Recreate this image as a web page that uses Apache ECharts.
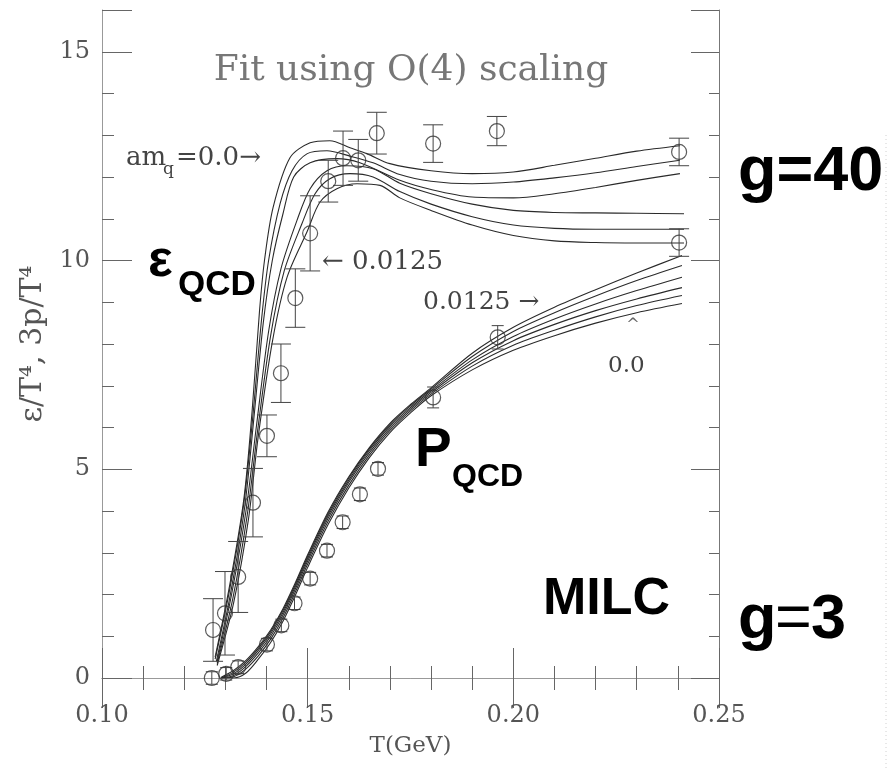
<!DOCTYPE html>
<html>
<head>
<meta charset="utf-8">
<script src="https://cdn.jsdelivr.net/npm/echarts@6/dist/echarts.min.js"></script>
<style>
  html, body { margin: 0; padding: 0; background: #fff; }
  #chart { width: 890px; height: 770px; }
</style>
</head>
<body>
<div id="chart"></div>
<script>
// energy density fit curves, [T, eps/T^4]
const epsCurve1 = [[0.1275,0.5],[0.131,2.2],[0.1345,4.3],[0.1365,6.4],[0.1383,8.8],[0.1395,10.0],[0.1416,11.27],[0.1457,12.46],[0.1506,12.82],[0.1554,12.87],[0.1603,12.7],[0.1644,12.56],[0.170,12.32],[0.180,12.15],[0.190,12.08],[0.200,12.12],[0.210,12.28],[0.220,12.45],[0.230,12.62],[0.2405,12.75]];
const epsCurve2 = [[0.1275,0.45],[0.131,2.1],[0.1345,4.2],[0.1367,6.3],[0.1388,8.6],[0.1405,10.0],[0.1433,11.36],[0.1462,12.15],[0.1499,12.56],[0.1547,12.63],[0.1603,12.5],[0.1659,12.34],[0.1724,12.06],[0.180,11.9],[0.190,11.84],[0.200,11.88],[0.210,11.98],[0.220,12.1],[0.230,12.25],[0.2405,12.4]];
const epsCurve3 = [[0.1278,0.4],[0.1312,2.0],[0.1347,4.1],[0.1369,6.2],[0.1392,8.5],[0.1414,10.0],[0.1440,11.12],[0.1466,12.0],[0.1506,12.34],[0.1571,12.44],[0.1627,12.34],[0.1724,11.92],[0.180,11.7],[0.190,11.52],[0.200,11.5],[0.210,11.6],[0.220,11.75],[0.230,11.92],[0.2405,12.08]];
const epsCurve4 = [[0.128,0.4],[0.1315,2.0],[0.135,4.0],[0.1375,6.0],[0.1405,8.3],[0.1435,9.8],[0.1474,10.96],[0.1506,11.72],[0.1547,12.15],[0.1596,12.27],[0.1659,12.2],[0.1724,11.85],[0.180,11.6],[0.190,11.35],[0.200,11.2],[0.210,11.15],[0.220,11.14],[0.230,11.13],[0.2415,11.12]];
const epsCurve5 = [[0.128,0.35],[0.1318,1.9],[0.1353,3.9],[0.1378,5.9],[0.141,8.2],[0.1443,9.75],[0.1486,10.88],[0.1518,11.6],[0.1554,11.96],[0.1603,12.08],[0.1659,12.0],[0.1724,11.65],[0.180,11.35],[0.190,11.05],[0.200,10.85],[0.210,10.77],[0.220,10.75],[0.230,10.75],[0.2415,10.75]];
const epsCurve6 = [[0.128,0.3],[0.132,1.8],[0.1356,3.8],[0.138,5.8],[0.1415,8.1],[0.145,9.6],[0.1499,10.7],[0.1530,11.4],[0.1571,11.72],[0.162,11.84],[0.1676,11.8],[0.1724,11.5],[0.180,11.2],[0.190,10.85],[0.200,10.6],[0.210,10.47],[0.220,10.43],[0.230,10.42],[0.2415,10.42]];

// pressure fit curves, 3p/T^4 on a shared T grid
const presT = [0.129, 0.132, 0.135, 0.138, 0.141, 0.144, 0.147, 0.150, 0.155, 0.160, 0.165, 0.170, 0.175, 0.180, 0.190, 0.200, 0.210, 0.220, 0.230, 0.241];
const pres1 = [0.02, 0.18, 0.42, 0.75, 1.15, 1.66, 2.28, 2.95, 3.98, 4.82, 5.52, 6.10, 6.55, 6.95, 7.78, 8.40, 8.88, 9.30, 9.70, 10.12];
const pres2 = [0.00, 0.14, 0.38, 0.71, 1.11, 1.62, 2.24, 2.91, 3.94, 4.79, 5.49, 6.07, 6.52, 6.92, 7.70, 8.30, 8.75, 9.15, 9.52, 9.88];
const pres3 = [0.00, 0.10, 0.33, 0.66, 1.06, 1.57, 2.19, 2.86, 3.89, 4.74, 5.45, 6.03, 6.48, 6.88, 7.62, 8.18, 8.60, 8.96, 9.28, 9.60];
const pres4 = [0.00, 0.06, 0.28, 0.60, 1.00, 1.51, 2.13, 2.80, 3.83, 4.69, 5.40, 5.98, 6.44, 6.84, 7.55, 8.08, 8.47, 8.80, 9.08, 9.35];
const pres5 = [0.00, 0.03, 0.22, 0.53, 0.93, 1.44, 2.06, 2.73, 3.76, 4.62, 5.34, 5.93, 6.40, 6.80, 7.47, 7.97, 8.33, 8.65, 8.92, 9.16];
const pres6 = [0.00, 0.00, 0.12, 0.45, 0.85, 1.36, 1.98, 2.65, 3.68, 4.55, 5.28, 5.88, 6.35, 6.76, 7.38, 7.85, 8.20, 8.50, 8.75, 8.97];

// lattice points
const epsT   = [0.127, 0.1299, 0.1331, 0.1367, 0.1401, 0.1435, 0.147, 0.1506, 0.155, 0.1586, 0.1623, 0.1668, 0.1805, 0.196, 0.2403, 0.2403];
const epsV   = [1.15, 1.55, 2.42, 4.2, 5.8, 7.3, 9.1, 10.65, 11.9, 12.45, 12.4, 13.05, 12.8, 13.1, 12.6, 10.43];
const epsErr = [0.75, 1.0, 0.85, 0.82, 0.5, 0.7, 0.7, 0.9, 0.5, 0.65, 0.5, 0.5, 0.45, 0.35, 0.33, 0.33];

const presPtT = [0.1267, 0.1302, 0.1331, 0.1401, 0.1436, 0.1468, 0.1506, 0.1547, 0.1585, 0.1627, 0.1671, 0.1805, 0.1962];
const presPtV = [0.0, 0.1, 0.26, 0.8, 1.26, 1.79, 2.38, 3.05, 3.73, 4.4, 5.01, 6.72, 8.16];
const presErr = [0.15, 0.15, 0.15, 0.15, 0.15, 0.15, 0.15, 0.15, 0.15, 0.15, 0.15, 0.25, 0.28];

const xTicks = [0.10, 0.15, 0.20, 0.25];

const chart = echarts.init(document.getElementById('chart'));
const serif = 'DejaVu Serif';
const ink = '#2a2a2a';
const tickCol = '#666';

const lineSeries = (data) => ({
  type: 'line', data: data, showSymbol: false, smooth: 0.3,
  lineStyle: { color: ink, width: 1.1 }, silent: true, z: 2
});

const errBars = (xs, ys, es, cap) => ({
  type: 'custom',
  data: xs.map((x, i) => [x, ys[i], es[i]]),
  encode: { x: 0, y: 1 },
  clip: false,
  z: 3,
  renderItem: function (params, api) {
    const x = api.value(0), y = api.value(1), e = api.value(2);
    const top = api.coord([x, y + e]);
    const bot = api.coord([x, y - e]);
    const st = { stroke: '#444', lineWidth: 1 };
    return {
      type: 'group',
      children: [
        { type: 'line', shape: { x1: top[0], y1: top[1], x2: bot[0], y2: bot[1] }, style: st },
        { type: 'line', shape: { x1: top[0] - cap, y1: top[1], x2: top[0] + cap, y2: top[1] }, style: st },
        { type: 'line', shape: { x1: bot[0] - cap, y1: bot[1], x2: bot[0] + cap, y2: bot[1] }, style: st }
      ]
    };
  }
});

const points = (xs, ys) => ({
  type: 'scatter',
  data: xs.map((x, i) => [x, ys[i]]),
  symbol: 'circle', symbolSize: 15, clip: false, z: 4,
  itemStyle: { color: 'transparent', borderColor: '#333', borderWidth: 1.2 }
});

const yBase = { type: 'value', min: 0, max: 16, splitLine: { show: false } };

const txt = (x, y, text, font, fill, align) => ({
  type: 'text', x: x, y: y, silent: true,
  style: { text: text, font: font, fill: fill || '#000', align: align || 'left', verticalAlign: 'middle' }
});

chart.setOption({
  animation: false,
  backgroundColor: '#fff',
  grid: { left: 102, right: 171, top: 10, bottom: 92 },
  xAxis: [
    {
      type: 'value', min: 0.10, max: 0.25, interval: 0.05, position: 'bottom',
      axisLine: { lineStyle: { color: '#999', width: 1 } },
      axisTick: { inside: true, length: 30, lineStyle: { color: tickCol } },
      minorTick: { show: true, splitNumber: 5, length: 12, lineStyle: { color: tickCol } },
      splitLine: { show: false },
      axisLabel: {
        formatter: v => (xTicks.some(t => Math.abs(t - v) < 1e-6) ? v.toFixed(2) : ''),
        fontFamily: serif, fontSize: 24, color: '#555', margin: 26
      },
      name: 'T(GeV)', nameLocation: 'middle', nameGap: 57,
      nameTextStyle: { fontFamily: serif, fontSize: 23, color: '#555' }
    },
    {
      type: 'value', min: 0.10, max: 0.25, interval: 0.05, position: 'top',
      axisLine: { lineStyle: { color: '#999', width: 1 } },
      axisTick: { inside: true, length: 30, lineStyle: { color: tickCol } },
      minorTick: { show: true, splitNumber: 5, length: 12, lineStyle: { color: tickCol } },
      splitLine: { show: false }, axisLabel: { show: false }
    }
  ],
  yAxis: [
    Object.assign({}, yBase, {
      interval: 5, position: 'left',
      axisLine: { show: true, lineStyle: { color: '#999', width: 1 } },
      axisTick: { inside: true, length: 30, lineStyle: { color: tickCol } },
      axisLabel: {
        formatter: v => (v % 5 === 0 ? String(v) : ''),
        fontFamily: serif, fontSize: 24, color: '#555', margin: 12
      },
      name: 'ε/T⁴, 3p/T⁴', nameLocation: 'middle', nameGap: 50,
      nameTextStyle: { fontFamily: serif, fontSize: 30, color: '#555' }
    }),
    Object.assign({}, yBase, {
      interval: 1, position: 'left',
      axisLine: { show: false },
      axisTick: { inside: true, length: 12, lineStyle: { color: tickCol } },
      axisLabel: { show: false }
    }),
    Object.assign({}, yBase, {
      interval: 5, position: 'right',
      axisLine: { show: true, lineStyle: { color: '#777', width: 1 } },
      axisTick: { inside: true, length: 28, lineStyle: { color: tickCol } },
      axisLabel: { show: false }
    }),
    Object.assign({}, yBase, {
      interval: 1, position: 'right',
      axisLine: { show: false },
      axisTick: { inside: true, length: 10, lineStyle: { color: tickCol } },
      axisLabel: { show: false }
    })
  ],
  series: [
    lineSeries(epsCurve1), lineSeries(epsCurve2), lineSeries(epsCurve3),
    lineSeries(epsCurve4), lineSeries(epsCurve5), lineSeries(epsCurve6),
    lineSeries(presT.map((t, i) => [t, pres1[i]])),
    lineSeries(presT.map((t, i) => [t, pres2[i]])),
    lineSeries(presT.map((t, i) => [t, pres3[i]])),
    lineSeries(presT.map((t, i) => [t, pres4[i]])),
    lineSeries(presT.map((t, i) => [t, pres5[i]])),
    lineSeries(presT.map((t, i) => [t, pres6[i]])),
    errBars(epsT, epsV, epsErr, 10),
    errBars(presPtT, presPtV, presErr, 6),
    points(epsT, epsV),
    points(presPtT, presPtV)
  ],
  graphic: [
    txt(411, 71, 'Fit using O(4) scaling', '36px "DejaVu Serif"', '#777', 'center'),
    txt(126, 158, 'am', '26px "DejaVu Serif"', '#444'),
    txt(163, 170, 'q', '17px "DejaVu Serif"', '#444'),
    txt(176, 158, '=0.0→', '26px "DejaVu Serif"', '#444'),
    txt(322, 262, '← 0.0125', '26px "DejaVu Serif"', '#444'),
    txt(423, 302, '0.0125 →', '25px "DejaVu Serif"', '#444'),
    txt(633, 326, '^', '16px "DejaVu Serif"', '#666', 'center'),
    txt(608, 366, '0.0', '23px "DejaVu Serif"', '#444'),
    txt(148, 262, 'ε', 'bold 52px "Liberation Sans"', '#000'),
    txt(178, 285, 'QCD', 'bold 35px "Liberation Sans"', '#000'),
    txt(415, 451, 'P', 'bold 55px "Liberation Sans"', '#000'),
    txt(452, 477, 'QCD', 'bold 32px "Liberation Sans"', '#000'),
    txt(543, 600, 'MILC', 'bold 52px "Liberation Sans"', '#000'),
    txt(738, 173, 'g=40', 'bold 63px "Liberation Sans"', '#000'),
    txt(738, 621, 'g', 'bold 63px "Liberation Sans"', '#000'),
    txt(775, 621, '=', '63px "Liberation Sans"', '#000'),
    txt(811, 621, '3', 'bold 63px "Liberation Sans"', '#000'),
    {
      type: 'line', silent: true,
      shape: { x1: 886, y1: 135, x2: 886, y2: 770 },
      style: { stroke: '#d0d0d0', lineWidth: 1, lineDash: [1, 3] }
    }
  ]
});
</script>
</body>
</html>
